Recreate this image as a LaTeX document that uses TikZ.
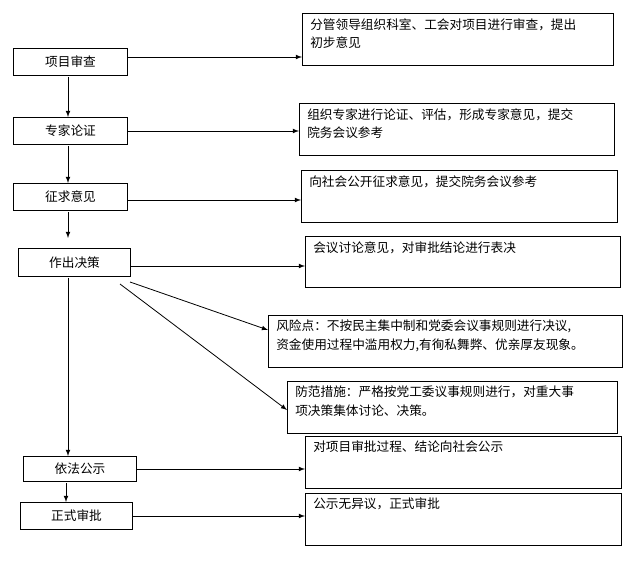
\documentclass[tikz,border=0pt]{standalone}
\usepackage{fontspec}
\setmainfont{Noto Sans CJK SC}
\begin{document}
\begin{tikzpicture}[x=0.75pt,y=-0.75pt,font=\fontsize{9.5pt}{14pt}\selectfont,
  stepbox/.style={draw,line width=0.8pt,anchor=north west,inner sep=0},
  txt/.style={anchor=north west,align=left,inner sep=0},
  arr/.style={-latex,line width=0.6pt}]
\useasboundingbox (0,0) rectangle (643,574);
\newcommand{\lbox}[6]{\node[stepbox,minimum width=#4*0.75pt,minimum height=#5*0.75pt] (#1) at (#2,#3) {#6};}
\newcommand{\rbox}[6]{\node[stepbox,minimum width=#4*0.75pt,minimum height=#5*0.75pt] (#1) at (#2,#3) {};
  \node[txt] (#1t) at (#2+8,#3+5) {#6};}
\lbox{a}{13}{48}{114}{27}{项目审查}
\lbox{b}{13}{117}{114}{27}{专家论证}
\lbox{c}{13}{183}{114}{27}{征求意见}
\lbox{d}{18}{248}{112}{28}{作出决策}
\lbox{e}{23}{456}{113}{25}{依法公示}
\lbox{f}{20}{502}{112}{27}{正式审批}
\rbox{ra}{302}{13}{311}{52}{分管领导组织科室、工会对项目进行审查，提出\\初步意见}
\rbox{rb}{299}{103}{315}{52}{组织专家进行论证、评估，形成专家意见，提交\\院务会议参考}
\rbox{rc}{301}{170}{316}{52}{向社会公开征求意见，提交院务会议参考}
\rbox{rd}{305}{236}{315}{51}{会议讨论意见，对审批结论进行表决}
\rbox{re}{268}{315}{354}{52}{风险点：不按民主集中制和党委会议事规则进行决议,\\资金使用过程中滥用权力,有徇私舞弊、优亲厚友现象。}
\rbox{rf}{287}{381}{330}{52}{防范措施：严格按党工委议事规则进行，对重大事\\项决策集体讨论、决策。}
\rbox{rg}{305}{436}{316}{52}{对项目审批过程、结论向社会公示}
\rbox{rh}{305}{493}{316}{52}{公示无异议，正式审批}
\draw[arr] (a.east |- 0,57) -- (ra.west |- 0,57);
\draw[arr] (b.east |- 0,131) -- (rb.west |- 0,131);
\draw[arr] (c.east |- 0,200) -- (rc.west |- 0,200);
\draw[arr] (d.east |- 0,266) -- (rd.west |- 0,266);
\draw[arr] (e.east |- 0,469) -- (rg.west |- 0,469);
\draw[arr] (f.east |- 0,516) -- (rh.west |- 0,516);
\draw[arr] (68,77) -- (b.north -| 68,0);
\draw[arr] (68,146) -- (c.north -| 68,0);
\draw[arr] (68,212) -- (68,238);
\draw[arr] (68,278) -- (e.north -| 68,0);
\draw[arr] (66,483) -- (f.north -| 66,0);
\draw[arr] (130,282) -- (re.west |- 0,330);
\draw[arr] (120,284) -- (rf.west |- 0,410);
\end{tikzpicture}
\end{document}
